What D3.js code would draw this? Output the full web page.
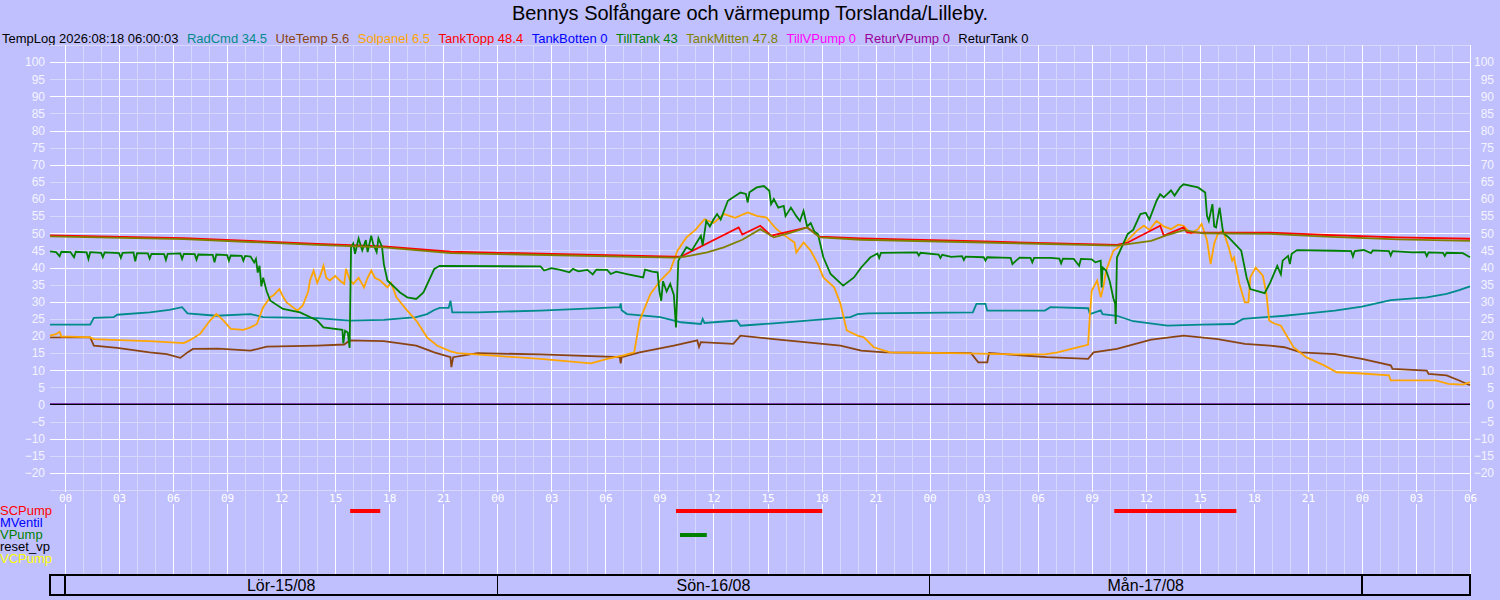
<!DOCTYPE html>
<html><head><meta charset="utf-8">
<script src="https://cdn.jsdelivr.net/npm/d3@7"></script>
<style>
html,body{margin:0;padding:0;background:#c0c0ff;}
svg{display:block;font-family:"Liberation Sans",Arial,sans-serif;}
</style></head><body>
<svg id="chart" width="1500" height="600"></svg>
<script>
// ---------------- DATA (time = hours since Lör 15/08 00:00) ----------------
const title = "Bennys Solfångare och värmepump Torslanda/Lilleby.";
const stamp = "TempLog 2026:08:18 06:00:03";
const seriesNames  = ["RadCmd","UteTemp","Solpanel","TankTopp","TankBotten","TillTank","TankMitten","TillVPump","ReturVPump","ReturTank"];
const seriesLatest = ["34.5","5.6","6.5","48.4","0","43","47.8","0","0","0"];
const seriesColors = ["#008b8b","#8b4513","#ffa500","#ff0000","#0000ff","#008000","#808000","#ff00ff","#990099","#000000"];
const timeStart = -50/60, timeEnd = 78;
const xTickLabels = ["00","03","06","09","12","15","18","21"];
const dayLabels = ["Lör-15/08","Sön-16/08","Mån-17/08"];
const yTicks = [-20,-15,-10,-5,0,5,10,15,20,25,30,35,40,45,50,55,60,65,70,75,80,85,90,95,100];

const radCmd = [[-0.83,23.3],[1.4,23.3],[1.6,25.3],[2.7,25.5],[2.9,26.2],[4.7,26.9],[5.8,27.6],[6.5,28.4],[6.8,26.6],[8.4,25.9],[10.3,26.4],[11,25.5],[14,25.2],[15.8,24.5],[17.7,24.7],[19.5,25.5],[20.1,26.4],[20.5,27.6],[20.8,28.2],[21.3,28.2],[21.4,30.3],[21.5,26.9],[22.9,26.9],[26.4,27.4],[30.8,28.4],[30.85,29.5],[30.9,27.5],[31.2,26.4],[33.05,25.5],[34.2,24],[35.3,23.5],[35.4,25],[35.5,23.8],[37.3,24.5],[37.5,23],[39.35,23.7],[41.2,24.5],[43.6,25.5],[44,26.4],[44.6,26.6],[50.4,26.9],[50.6,29.4],[51.1,29.4],[51.2,27.4],[54.4,27.4],[54.7,28.4],[56.8,28.1],[56.9,26.4],[57.5,27.5],[57.6,26.4],[58.4,25.9],[59.3,24.3],[61.2,23],[63.1,23.3],[64.9,23.5],[65.4,25],[67.7,25.9],[68.6,26.4],[70.5,27.4],[72,28.6],[73.6,30.5],[75.6,31.3],[76.7,32.3],[77.4,33.4],[78,34.5]];

const uteTemp = [[-0.83,19.6],[1.4,19.6],[1.6,17.2],[2.9,16.5],[4.7,15.2],[5.65,14.7],[6.4,13.6],[6.8,15.2],[7.1,16.2],[8.5,16.3],[10.3,15.7],[11.2,16.9],[14,17.2],[15.5,17.5],[15.8,18.7],[17.7,18.5],[19.5,17.2],[20.5,15.2],[21.4,13.8],[21.45,10.9],[21.55,13.8],[22.9,15],[26.4,14.6],[30.8,13.8],[30.85,12],[30.9,13.8],[31.9,15.2],[33.8,17.2],[35.1,18.7],[35.2,16.8],[35.3,18.2],[37.1,17.7],[37.5,20.1],[39.35,19.1],[43.05,17.2],[44.2,15.7],[45.5,15.2],[50.3,15],[50.7,12.3],[51.2,12.3],[51.3,15],[54.5,13.8],[56.8,13.3],[57.1,15.2],[58.4,16.2],[60.3,18.9],[62.1,20.1],[64,19.1],[65.5,17.7],[66.9,17.2],[67.7,16.7],[68.6,15.2],[70.5,14.7],[72,13.3],[73.6,11.4],[73.7,10.4],[75.6,9.9],[75.7,8.9],[76.7,8.5],[77.4,7],[78,5.6]];

const solpanel = [[-0.83,20.1],[-0.5,20.5],[-0.3,21.2],[-0.2,19.8],[0.3,19.8],[1.4,19.6],[1.6,19.1],[3,18.8],[4.7,18.5],[6.6,17.9],[6.9,18.7],[7.5,20.6],[8.05,24.5],[8.4,26.4],[8.6,25.5],[8.8,24.5],[9.2,22.1],[9.9,21.8],[10.3,22.5],[10.65,23.5],[11,28.4],[11.4,31.3],[11.6,32],[11.9,33.7],[12.1,31.5],[12.3,29.8],[12.9,27.4],[13.2,28.9],[13.5,33],[13.6,36.2],[13.8,39.1],[14.0,35.5],[14.2,38],[14.35,40.5],[14.5,37],[14.7,36.2],[15.0,37.5],[15.3,36],[15.5,35.2],[15.6,39.6],[15.8,36.5],[16.0,35.2],[16.3,37],[16.6,34.2],[16.8,37],[17.0,39.1],[17.2,37],[17.5,36.2],[17.9,34.2],[18.1,35.5],[18.4,31.3],[19,27.4],[19.5,24.5],[20.1,19.6],[20.65,17.2],[21.4,15.5],[21.8,15],[23.6,14.3],[26.4,13.3],[29.2,12],[30.1,13.3],[31,14.3],[31.6,15.2],[31.9,24.5],[32.5,32.3],[33.05,36.2],[33.6,39.1],[34,44.9],[34.5,48.8],[35,51],[35.5,54.1],[36.0,53],[36.6,55.6],[37.2,54.5],[37.9,56.1],[38.4,55.1],[38.95,54.6],[39.2,53],[39.5,51.2],[40.1,48.8],[40.5,47.3],[40.6,44.4],[41,47.3],[41.4,44.9],[41.8,41],[42.1,37.1],[42.7,34.2],[43.05,29.4],[43.4,21.6],[44,20.1],[44.35,19.6],[44.9,16.7],[45.8,15.2],[49.2,15],[52.9,14.6],[54.4,14.6],[55.1,15.2],[56.6,17.2],[56.8,17.5],[56.9,26.4],[57,33.2],[57.3,36.2],[57.5,31.3],[57.65,34.5],[57.8,39.1],[58.2,44.9],[58.6,46.4],[59.0,48],[59.5,50.7],[59.9,52.2],[60.2,51],[60.6,53.6],[61.0,52],[61.4,51.2],[61.8,52.5],[62.1,52.2],[62.5,50],[62.9,51.2],[63.1,52.7],[63.4,48],[63.6,41],[63.8,47],[64.0,49.8],[64.3,50.7],[64.6,46],[64.8,42],[64.9,42.9],[65.2,35.2],[65.5,29.8],[65.7,29.8],[65.8,37.1],[66.1,40],[66.5,37.6],[66.7,32.3],[66.85,24.5],[67.1,23.7],[67.5,23],[68.2,16.7],[68.9,13.8],[69.9,11.4],[70.6,9.4],[71.8,9.1],[73.5,8.5],[73.6,7],[76.1,7],[76.8,6],[77.6,5.8],[78,6.5]];

const tankTopp = [[-0.83,49.4],[6.6,48.6],[14,46.9],[17.7,46.2],[21.4,44.6],[33.8,43.2],[34.2,43.2],[37.4,51.7],[37.6,49.6],[38.6,52.2],[39.2,49.3],[41.2,51.7],[41.9,49],[44.2,48.5],[51,47.6],[58.4,46.6],[59,47.3],[60.8,52.2],[61,49.3],[62.1,51.7],[62.3,50.2],[66.9,50.2],[70,49.5],[74,48.8],[78,48.4]];

const tankBotten = [[-0.83,0],[78,0]];

const tillTank = [[-0.83,44.7],[-0.5,44.5],[-0.3,43.3],[-0.2,44.6],[0.3,44.5],[0.5,43],[0.6,44.6],[1.2,44.4],[1.3,42.5],[1.4,44.5],[2,44.3],[2.1,43],[2.2,44.4],[3,44.2],[3.1,42.8],[3.2,44.3],[3.8,44.4],[3.9,41.8],[4.0,44.2],[4.6,44.1],[4.7,42.6],[4.8,44],[5.5,43.9],[5.6,42.2],[5.7,44],[6.4,44.1],[6.5,42.5],[6.6,44],[7.2,43.9],[7.3,42.3],[7.4,43.8],[8.2,43.7],[8.3,41.5],[8.4,43.8],[9.0,43.6],[9.1,42.0],[9.2,43.5],[9.8,43.4],[9.9,42],[10.0,43.4],[10.3,43.2],[10.5,41.5],[10.6,42.5],[10.7,38.5],[10.8,40.5],[10.9,34.5],[11.0,37],[11.2,33],[11.4,30.3],[12.1,27.9],[13.05,26.9],[14,24.5],[14.35,22.5],[15.4,21.8],[15.45,17.8],[15.55,21.5],[15.7,21],[15.8,16.5],[15.88,45.9],[16.0,47],[16.1,44],[16.3,48.5],[16.5,45],[16.7,48],[16.8,44.5],[17.0,49.3],[17.1,47],[17.3,44.5],[17.4,48.5],[17.6,46],[17.7,41],[17.9,36.2],[18.6,32.7],[19.0,31.3],[19.5,30.8],[19.9,32.7],[20.5,39.6],[20.8,40.5],[26.4,40.3],[26.6,39.1],[27.0,39.8],[27.5,39.3],[28.0,38.6],[28.2,39.6],[28.5,38.9],[29.0,39.3],[29.3,38],[29.5,39.4],[30.1,39.3],[30.3,38.1],[30.6,38.8],[31.2,38.1],[32.1,37.1],[32.2,39.4],[32.6,38.8],[32.9,38.6],[33.0,33],[33.1,30.3],[33.2,36],[33.4,33],[33.6,35.2],[33.8,32],[33.92,22.5],[34.05,42],[34.5,45.9],[34.8,45],[35.3,49.3],[35.4,46.5],[35.6,53.6],[35.8,52],[36.0,54],[36.2,55.6],[36.4,54],[36.8,59.5],[37.5,61.9],[37.8,61.5],[37.9,59],[38.0,62],[38.4,63.4],[38.8,63.8],[39.1,62.4],[39.2,58.5],[39.35,60],[39.6,57.5],[39.9,58],[40.0,55],[40.3,57.5],[40.6,55],[40.8,53.6],[41.0,56.5],[41.2,52],[41.4,53],[41.6,50.5],[41.8,49.8],[42.1,43],[42.5,38.1],[43.2,34.7],[43.8,37.1],[44.2,40],[44.7,42.9],[45.1,44.1],[45.2,42.8],[45.3,44.3],[47.3,44.4],[47.4,43.5],[47.5,44.3],[48.5,43.8],[48.6,42.8],[48.7,43.7],[49.2,43.1],[49.8,43.3],[49.9,42.2],[50.0,43.2],[51.0,43],[51.1,42],[51.2,43],[52.0,42.9],[52.5,42.8],[52.6,41],[52.8,42],[53.0,42.9],[53.6,42.8],[53.7,41.5],[53.8,42.8],[54.7,42.8],[55.2,42.6],[55.3,41.2],[55.4,42.6],[56.0,42.5],[56.3,40.5],[56.4,42.5],[57.0,42.4],[57.2,41.5],[57.5,42],[57.55,34.2],[57.6,40],[57.8,39.1],[58.0,36],[58.2,31],[58.3,29.4],[58.33,23.5],[58.4,42.9],[59.0,49.8],[59.3,51],[59.7,55.6],[60.0,56],[60.2,54],[60.6,59.5],[60.8,61.4],[61.0,60.5],[61.4,62.5],[61.6,61],[61.9,63.4],[62.1,64.3],[62.9,63.4],[63.3,61.9],[63.4,55],[63.5,53.6],[63.7,58.5],[63.8,52],[63.9,51.7],[64.1,57.5],[64.3,50],[64.6,48.8],[65.3,44.9],[65.6,37.1],[65.8,33.7],[66.6,32.5],[66.9,35.5],[67.3,40.5],[67.5,38],[67.6,42],[67.9,43.4],[68.0,41],[68.1,44],[68.4,45.1],[70.5,44.9],[71.4,44.8],[71.5,43.2],[71.6,44.8],[72.1,45.1],[72.5,44.2],[72.6,45],[73.5,44.8],[73.6,43.5],[73.7,44.8],[74.8,44.4],[75.5,44.5],[75.6,43.3],[75.7,44.4],[76.5,44.3],[76.6,43.4],[76.7,44.3],[77.6,44.2],[78,43]];

const tankMitten = [[-0.83,49.1],[6.6,48.3],[14,46.6],[17.7,45.9],[21.4,44.2],[33.8,42.9],[34.35,43.1],[35.65,44.4],[36.57,45.9],[37.6,48.1],[38.6,51.2],[39.35,48.8],[40.3,50.2],[41.2,51.7],[41.9,48.8],[44.2,48.1],[51,47.3],[58.4,46.4],[60.3,47.8],[61.1,49.3],[62.1,50.9],[63.2,50],[66.9,49.8],[70,49],[74,48.2],[78,47.8]];

const tillVPump = [[-0.83,0],[78,0]];
const returVPump = [[-0.83,0],[78,0]];
const returTank = [[-0.83,0],[78,0]];

const pumpNames  = ["SCPump","MVentil","VPump","reset_vp","VCPump"];
const pumpColors = ["#ff0000","#0000ff","#008000","#000000","#ffff00"];
const scPumpOn   = [[15.83,17.5],[33.92,42.04],[58.25,65.03]];
const mVentilOn  = [];
const vPumpOn    = [[34.14,35.63]];
const resetVpOn  = [];
const vcPumpOn   = [];

// ---------------- DRAW ----------------
const seriesData = [radCmd,uteTemp,solpanel,tankTopp,tankBotten,tillTank,tankMitten,tillVPump,returVPump,returTank];
const pumpData = [scPumpOn,mVentilOn,vPumpOn,resetVpOn,vcPumpOn];

const BG = "#c0c0ff", MINOR = "#d8d8ff";
const svg = d3.select("#chart");
const pLeft = 50, pRight = 1470, pTop = 45, pBottom = 490, gridBottom = 575;
const X = d3.scaleLinear().domain([timeStart,timeEnd]).range([pLeft,pRight]);
const Y = d3.scaleLinear().domain([-25,105]).range([pBottom,pTop]);

svg.append("rect").attr("width",1500).attr("height",600).attr("fill",BG);

// title
svg.append("text").attr("x",750).attr("y",20).attr("text-anchor","middle")
  .attr("font-size",20).attr("fill","#000").text(title);

// legend
const leg = svg.append("g").attr("font-size",13);
let lx = 2;
const t0 = leg.append("text").attr("x",lx).attr("y",43).attr("fill","#000").text(stamp);
lx += t0.node().getComputedTextLength() + 8.5;
seriesNames.forEach((n,i)=>{
  const t = leg.append("text").attr("x",lx).attr("y",43).attr("fill",seriesColors[i])
    .text(n+" "+seriesLatest[i]);
  lx += t.node().getComputedTextLength() + 8.5;
});

// grid
const grid = svg.append("g").attr("shape-rendering","crispEdges");
const hVals = d3.range(-25,106,5);
const hours = d3.range(Math.ceil(timeStart), Math.floor(timeEnd)+1);
grid.selectAll("line.hmin").data(hVals.filter(v=>v%10!==0)).join("line")
  .attr("x1",pLeft).attr("x2",pRight).attr("y1",d=>Math.round(Y(d))+0.5).attr("y2",d=>Math.round(Y(d))+0.5)
  .attr("stroke",MINOR);
grid.selectAll("line.vmin").data(hours.filter(h=>h%3!==0)).join("line")
  .attr("y1",pTop).attr("y2",gridBottom).attr("x1",d=>Math.round(X(d))+0.5).attr("x2",d=>Math.round(X(d))+0.5)
  .attr("stroke",MINOR);
grid.selectAll("line.hmaj").data(hVals.filter(v=>v%10===0)).join("line")
  .attr("x1",pLeft).attr("x2",pRight).attr("y1",d=>Math.round(Y(d))+0.5).attr("y2",d=>Math.round(Y(d))+0.5)
  .attr("stroke","#ffffff");
grid.selectAll("line.vmaj").data(hours.filter(h=>h%3===0)).join("line")
  .attr("y1",pTop).attr("y2",gridBottom).attr("x1",d=>Math.round(X(d))+0.5).attr("x2",d=>Math.round(X(d))+0.5)
  .attr("stroke","#ffffff");

// y axes
const yl = svg.append("g").attr("transform",`translate(${pLeft},0)`)
  .call(d3.axisLeft(Y).tickValues(yTicks).tickSize(0).tickPadding(5).tickFormat(d3.format("d")));
const yr = svg.append("g").attr("transform",`translate(${pRight},0)`)
  .call(d3.axisRight(Y).tickValues(yTicks).tickSize(0).tickPadding(5).tickFormat(d3.format("d")));
[yl,yr].forEach(g=>{
  g.select(".domain").remove();
  g.selectAll("text").attr("fill","#f4f4ff").attr("font-size",12)
    .attr("font-family","'Liberation Sans',Arial,sans-serif");
});
yr.selectAll("text").attr("text-anchor","end").attr("x",24);

// x axis labels (with background patch to interrupt grid line)
const xTickVals = hours.filter(h=>h%3===0);
const xa = svg.append("g").attr("transform",`translate(0,491)`)
  .call(d3.axisBottom(X).tickValues(xTickVals).tickSize(0).tickPadding(0)
    .tickFormat(h=>xTickLabels[(((h%24)+24)%24)/3]));
xa.select(".domain").remove();
xa.selectAll(".tick").insert("rect","text").attr("x",-8).attr("y",1).attr("width",16).attr("height",12).attr("fill",BG);
xa.selectAll("text").attr("fill","#ffffff").attr("font-size",11).attr("y",7).attr("dy","0.35em")
  .attr("font-family","'DejaVu Sans Mono','Liberation Mono',monospace");

// series lines
const line = d3.line().x(d=>X(d[0])).y(d=>Y(d[1]));
const lines = svg.append("g").attr("fill","none");
seriesData.forEach((s,i)=>{
  lines.append("path").attr("d",line(s)).attr("stroke",seriesColors[i])
    .attr("stroke-width", s.length===2 && s[0][1]===0 ? 1.2 : 1.8)
    .attr("stroke-linejoin","miter");
});

// pump rows
const rowBase = [515,527,539,551,563];
const pumps = svg.append("g").attr("font-size",13);
pumpNames.forEach((n,i)=>{
  pumps.append("text").attr("x",0).attr("y",rowBase[i]).attr("fill",pumpColors[i]).text(n);
  pumps.append("g").selectAll("rect").data(pumpData[i]).join("rect")
    .attr("x",d=>X(d[0])).attr("width",d=>X(d[1])-X(d[0]))
    .attr("y",rowBase[i]-6).attr("height",4).attr("fill",pumpColors[i]);
});

// date bar
const db = svg.append("g").attr("shape-rendering","crispEdges");
db.append("rect").attr("x",pLeft).attr("y",575).attr("width",pRight-pLeft).attr("height",20)
  .attr("fill","none").attr("stroke","#000").attr("stroke-width",1.5);
const dayStarts = [0,24,48,72];
db.selectAll("line").data(dayStarts).join("line")
  .attr("x1",d=>X(d)).attr("x2",d=>X(d)).attr("y1",575).attr("y2",595)
  .attr("stroke","#000").attr("stroke-width",1.5);
svg.append("g").selectAll("text").data(dayLabels).join("text")
  .attr("x",(d,i)=>X(i*24+12)).attr("y",591).attr("text-anchor","middle")
  .attr("font-size",16).attr("fill","#000").text(d=>d);
</script>
</body></html>
